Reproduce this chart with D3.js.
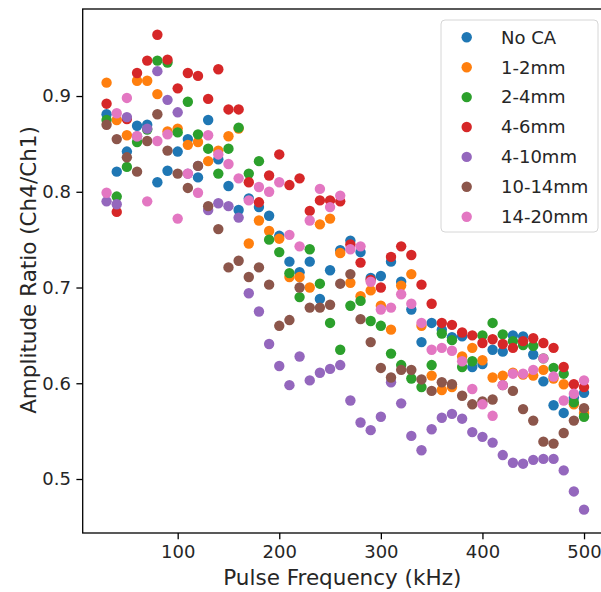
<!DOCTYPE html>
<html>
<head>
<meta charset="utf-8">
<script src="https://cdn.jsdelivr.net/npm/d3@7"></script>
<style>
  html, body { margin: 0; padding: 0; background: #fff; }
  svg { display: block; font-family: "DejaVu Sans", sans-serif; }
</style>
</head>
<body>
<svg id="chart" width="601" height="592"></svg>
<script>
const freq = [30,40,50,60,70,80,90,100,110,120,130,140,150,160,170,180,190,200,210,220,230,240,250,260,270,280,290,300,310,320,330,340,350,360,370,380,390,400,410,420,430,440,450,460,470,480,490,500];

const noCA = [0.881,0.821,0.842,0.869,0.870,0.810,0.822,0.842,0.855,0.815,0.875,0.834,0.806,0.781,0.793,0.784,0.775,0.754,0.727,0.716,0.727,0.688,0.718,0.739,0.749,0.737,0.710,0.712,0.727,0.706,0.677,0.643,0.663,0.656,0.648,0.649,0.617,0.620,0.635,0.633,0.650,0.649,0.630,0.602,0.577,0.569,0.585,0.590];
const ca1_2 = [0.914,0.875,0.859,0.916,0.916,0.902,0.863,0.866,0.849,0.852,0.832,0.843,0.858,0.866,0.746,0.770,0.759,0.751,0.711,0.711,0.700,0.766,0.772,0.736,0.705,0.691,0.697,0.681,0.656,0.702,0.714,0.660,0.608,0.593,0.596,0.628,0.637,0.624,0.606,0.608,0.611,0.609,0.608,0.614,0.605,0.599,0.578,0.569];
const ca2_4 = [0.875,0.795,0.826,0.852,0.865,0.937,0.935,0.862,0.894,0.860,0.845,0.819,0.845,0.867,0.819,0.832,0.750,0.737,0.715,0.690,0.740,0.704,0.663,0.635,0.681,0.686,0.665,0.660,0.631,0.619,0.605,0.596,0.619,0.652,0.645,0.617,0.623,0.650,0.663,0.651,0.644,0.640,0.639,0.626,0.616,0.610,0.580,0.565];
const ca4_6 = [0.892,0.779,0.876,0.924,0.937,0.964,0.938,0.908,0.924,0.921,0.897,0.928,0.886,0.886,0.810,0.789,0.817,0.839,0.807,0.814,0.780,0.791,0.791,0.790,0.745,0.726,0.708,0.700,0.732,0.743,0.734,0.703,0.683,0.663,0.661,0.653,0.650,0.642,0.646,0.641,0.637,0.644,0.647,0.642,0.637,0.617,0.599,0.596];
const ca4_10 = [0.790,0.787,0.878,0.858,0.866,0.926,0.896,0.883,0.819,0.827,0.781,0.788,0.785,0.773,0.694,0.675,0.641,0.618,0.598,0.628,0.603,0.611,0.615,0.619,0.582,0.559,0.551,0.565,0.601,0.579,0.545,0.530,0.552,0.564,0.568,0.563,0.549,0.544,0.538,0.525,0.517,0.516,0.520,0.521,0.521,0.509,0.487,0.468];
const ca10_14 = [0.870,0.855,0.836,0.821,0.853,0.881,0.843,0.819,0.804,0.827,0.785,0.761,0.721,0.728,0.711,0.721,0.703,0.660,0.666,0.700,0.679,0.679,0.682,0.704,0.714,0.667,0.643,0.616,0.606,0.614,0.614,0.604,0.592,0.601,0.599,0.587,0.578,0.581,0.583,0.598,0.592,0.573,0.561,0.539,0.537,0.548,0.561,0.574];
const ca14_20 = [0.799,0.882,0.898,0.858,0.790,0.853,0.860,0.772,0.819,0.799,0.859,0.839,0.829,0.814,0.791,0.805,0.800,0.810,0.755,0.743,0.770,0.803,0.784,0.796,0.740,0.743,0.706,0.677,0.679,0.693,0.683,0.663,0.635,0.637,0.634,0.623,0.594,0.578,0.566,0.598,0.610,0.610,0.614,0.626,0.607,0.582,0.589,0.603];

const seriesNames = ["No CA","1-2mm","2-4mm","4-6mm","4-10mm","10-14mm","14-20mm"];
const seriesValues = [noCA, ca1_2, ca2_4, ca4_6, ca4_10, ca10_14, ca14_20];
const seriesColors = ["#1f77b4","#ff7f0e","#2ca02c","#d62728","#9467bd","#8c564b","#e377c2"];
const xTicks = [100,200,300,400,500];
const yTicks = [0.5,0.6,0.7,0.8,0.9];
const xLabel = "Pulse Frequency (kHz)";
const yLabel = "Amplitude Ratio (Ch4/Ch1)";

const svg = d3.select("#chart");
svg.append("rect").attr("width",601).attr("height",592).attr("fill","#fff");

const L = 82.7, R = 607.9, T = 9, B = 533;
const x = d3.scaleLinear().domain([6.5, 523.5]).range([L, R]);
const y = d3.scaleLinear().domain([0.4436, 0.9909]).range([B, T]);

// points
seriesValues.forEach((vals, si) => {
  svg.append("g").selectAll("circle")
    .data(freq.map((f, i) => ({f, v: vals[i]})))
    .join("circle")
    .attr("cx", d => x(d.f))
    .attr("cy", d => y(d.v))
    .attr("r", 5.2)
    .attr("fill", seriesColors[si]);
});

// axes
const xAxis = svg.append("g").attr("transform", `translate(0,${B})`)
  .call(d3.axisBottom(x).tickValues(xTicks).tickFormat(d3.format("d")).tickSize(6.3).tickSizeOuter(0).tickPadding(5.5));
const yAxis = svg.append("g").attr("transform", `translate(${L},0)`)
  .call(d3.axisLeft(y).tickValues(yTicks).tickFormat(d3.format(".1f")).tickSize(6.3).tickSizeOuter(0).tickPadding(5.5));
[xAxis, yAxis].forEach(a => {
  a.select(".domain").remove();
  a.selectAll(".tick line").attr("stroke","#000").attr("stroke-width",1.3);
  a.selectAll(".tick text").attr("fill","#262626").style("font-size","18px").style("font-family","DejaVu Sans");
});

// frame
svg.append("rect").attr("x",L).attr("y",T).attr("width",R-L).attr("height",B-T)
  .attr("fill","none").attr("stroke","#000").attr("stroke-width",1.3);

// labels
svg.append("text").attr("x",(L+R)/2 - 3).attr("y",585)
  .attr("text-anchor","middle").attr("fill","#262626").style("font-size","21.5px").text(xLabel);
svg.append("text").attr("transform","translate(35.5,270) rotate(-90)")
  .attr("text-anchor","middle").attr("fill","#262626").style("font-size","21.5px").text(yLabel);

// legend
const lg = svg.append("g");
lg.append("rect").attr("x",441).attr("y",20).attr("width",157).attr("height",212)
  .attr("rx",4).attr("fill","#fff").attr("fill-opacity",0.8).attr("stroke","#d6d6d6").attr("stroke-width",1);
seriesNames.forEach((n, i) => {
  const yy = 37.3 + i * 29.9;
  lg.append("circle").attr("cx",466.7).attr("cy",yy).attr("r",5.2).attr("fill",seriesColors[i]);
  lg.append("text").attr("x",501).attr("y",yy+6.3).attr("fill","#262626").style("font-size","18px").text(n);
});
</script>
</body>
</html>
